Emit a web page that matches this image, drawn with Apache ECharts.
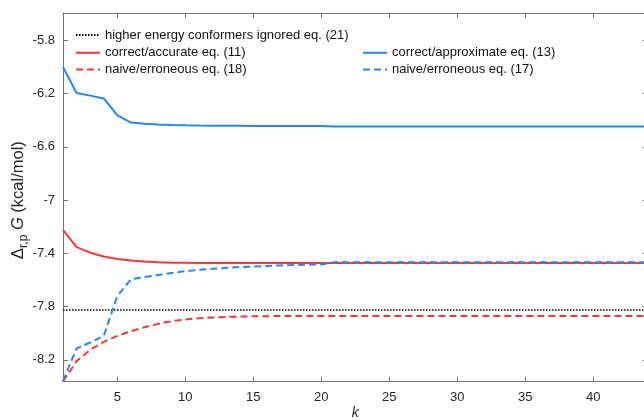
<!DOCTYPE html>
<html><head><meta charset="utf-8">
<script src="https://cdn.jsdelivr.net/npm/echarts@6/dist/echarts.min.js"></script>
<style>html,body{margin:0;padding:0;background:#fff}#c{width:644px;height:420px}</style>
</head><body><div id="c"></div>
<script>
const kValues = [1,2,3,4,5,6,7,8,9,10,11,12,13,14,15,16,17,18,19,20,21,22,23,24,25,26,27,28,29,30,31,32,33,34,35,36,37,38,39,40,41,42,43,44];
// correct/approximate eq. (13)
const approxEq13 = [-6.000,-6.195,-6.215,-6.236,-6.364,-6.417,-6.426,-6.431,-6.435,-6.438,-6.440,-6.441,-6.442,-6.442,-6.443,-6.443,-6.443,-6.443,-6.443,-6.443,
  -6.447,-6.447,-6.447,-6.447,-6.447,-6.447,-6.447,-6.447,-6.447,-6.447,-6.447,-6.447,-6.447,-6.447,-6.447,-6.447,-6.447,-6.447,-6.447,-6.447,-6.447,-6.447,-6.447,-6.447];
// correct/accurate eq. (11)
const accurateEq11 = [-7.223,-7.353,-7.395,-7.424,-7.442,-7.454,-7.462,-7.467,-7.470,-7.471,
  -7.472,-7.472,-7.472,-7.472,-7.472,-7.472,-7.472,-7.472,-7.472,-7.472,-7.472,-7.472,-7.472,-7.472,-7.472,-7.472,-7.472,-7.472,-7.472,-7.472,-7.472,-7.472,-7.472,-7.472,-7.472,-7.472,-7.472,-7.472,-7.472,-7.472,-7.472,-7.472,-7.472,-7.472];
// naive/erroneous eq. (18)
const naiveEq18 = [-8.363,-8.210,-8.125,-8.065,-8.020,-7.985,-7.955,-7.930,-7.910,-7.897,-7.888,-7.882,-7.878,-7.875,-7.873,-7.872,-7.871,
  -7.870,-7.870,-7.870,-7.870,-7.870,-7.870,-7.870,-7.870,-7.870,-7.870,-7.870,-7.870,-7.870,-7.870,-7.870,-7.870,-7.870,-7.870,-7.870,-7.870,-7.870,-7.870,-7.870,-7.870,-7.870,-7.870,-7.870];
// naive/erroneous eq. (17)
const naiveEq17 = [-8.360,-8.115,-8.070,-8.020,-7.720,-7.595,-7.578,-7.563,-7.548,-7.534,-7.524,-7.516,-7.509,-7.503,-7.499,-7.495,-7.491,-7.488,-7.485,-7.483,
  -7.466,-7.466,-7.466,-7.466,-7.466,-7.466,-7.466,-7.466,-7.466,-7.466,-7.466,-7.466,-7.466,-7.466,-7.466,-7.466,-7.466,-7.466,-7.466,-7.466,-7.466,-7.466,-7.466,-7.466];
// higher energy conformers ignored eq. (21)
const ignoredEq21 = [-7.825,-7.825,-7.825,-7.825,-7.825,-7.825,-7.825,-7.825,-7.825,-7.825,-7.825,-7.825,-7.825,-7.825,-7.825,-7.825,-7.825,-7.825,-7.825,-7.825,-7.825,-7.825,
  -7.825,-7.825,-7.825,-7.825,-7.825,-7.825,-7.825,-7.825,-7.825,-7.825,-7.825,-7.825,-7.825,-7.825,-7.825,-7.825,-7.825,-7.825,-7.825,-7.825,-7.825,-7.825];
const xTicks = [5,10,15,20,25,30,35,40];
const yTicks = [-8.2,-7.8,-7.4,-7,-6.6,-6.2,-5.8];
const names = ['higher energy conformers ignored eq. (21)','correct/accurate eq. (11)','correct/approximate eq. (13)','naive/erroneous eq. (18)','naive/erroneous eq. (17)'];

const font = '"Liberation Sans", Arial, Helvetica, sans-serif';
const axisColor = '#707070';
const textColor = '#262626';
const red = '#ff3333';
const blue = '#1f88ff';
const pairs = arr => kValues.map((k, i) => [k, arr[i]]);

const chart = echarts.init(document.getElementById('c'), null, {renderer: 'canvas'});
const baseX = {
  type: 'value', min: 1, max: 44,
  axisLine: {show: true, onZero: false, lineStyle: {color: axisColor, width: 1}},
  axisTick: {show: true, inside: true, length: 5, customValues: xTicks, lineStyle: {color: axisColor}},
  splitLine: {show: false}
};
const baseY = {
  type: 'value', min: -8.363, max: -5.594,
  axisLine: {show: true, onZero: false, lineStyle: {color: axisColor, width: 1}},
  axisTick: {show: true, inside: true, length: 5, customValues: yTicks, lineStyle: {color: axisColor}},
  splitLine: {show: false}
};
const legendText = {fontSize: 13, color: '#111', fontFamily: font};
const legendBase = {orient: 'vertical', itemWidth: 24, itemHeight: 14, itemGap: 3.7, padding: 0,
  textStyle: legendText, selectedMode: false,
  itemStyle: {color: 'rgba(0,0,0,0)', borderWidth: 0, opacity: 0}};
const mkLine = (name, data, color, type, width, z) => ({
  name, type: 'line', data: pairs(data), symbol: 'none', showSymbol: false,
  lineStyle: {color, type, width}, itemStyle: {color}, z, silent: true
});
chart.setOption({
  animation: false,
  backgroundColor: '#fff',
  grid: {left: 63, top: 13, width: 584.5, height: 368.5, containLabel: false, outerBoundsMode: 'none'},
  xAxis: [
    Object.assign({}, baseX, {
      position: 'bottom',
      axisLabel: {customValues: xTicks, color: textColor, fontSize: 13, fontFamily: font, margin: 9},
      name: 'k', nameLocation: 'middle', nameGap: 25, nameMoveOverlap: false,
      nameTextStyle: {fontStyle: 'italic', fontSize: 14, color: textColor, fontFamily: font}
    }),
    Object.assign({}, baseX, {position: 'top', axisLabel: {show: false}})
  ],
  yAxis: [
    Object.assign({}, baseY, {
      position: 'left',
      axisLabel: {customValues: yTicks, color: textColor, fontSize: 13, fontFamily: font, margin: 8},
      name: '{d|Δ}{s|r,p}{sp| }{g|G}{sp| }{n|(kcal/mol)}', nameLocation: 'middle', nameGap: 33,
      nameMoveOverlap: false,
      nameTextStyle: {
        color: textColor, fontFamily: font, fontSize: 16.5, padding: [0, 6, 0, 0],
        rich: {
          d: {fontSize: 17, fontFamily: font, color: textColor, lineHeight: 20, verticalAlign: 'top'},
          s: {fontSize: 12, fontFamily: font, color: textColor, lineHeight: 14, verticalAlign: 'bottom'},
          sp: {fontSize: 16.5, fontFamily: font, lineHeight: 20, verticalAlign: 'top'},
          g: {fontSize: 16.5, fontFamily: font, fontStyle: 'italic', color: textColor, lineHeight: 20, verticalAlign: 'top'},
          n: {fontSize: 16.5, fontFamily: font, color: textColor, lineHeight: 20, verticalAlign: 'top'}
        }
      }
    }),
    Object.assign({}, baseY, {position: 'right', axisLabel: {show: false}})
  ],
  legend: [
    Object.assign({data: [names[0]], left: 75, top: 28.5}, legendBase),
    Object.assign({data: [names[1], names[3]], left: 75, top: 46.3}, legendBase),
    Object.assign({data: [names[2], names[4]], left: 362, top: 46.3}, legendBase)
  ],
  series: [
    mkLine(names[0], ignoredEq21, '#000000', [1.5, 1.5], 1.5, 2),
    mkLine(names[1], accurateEq11, red, 'solid', 2, 3),
    mkLine(names[2], approxEq13, blue, 'solid', 2, 3),
    mkLine(names[3], naiveEq18, red, [7, 4], 2, 4),
    mkLine(names[4], naiveEq17, blue, [7, 4], 2, 5)
  ]
});
</script></body></html>
